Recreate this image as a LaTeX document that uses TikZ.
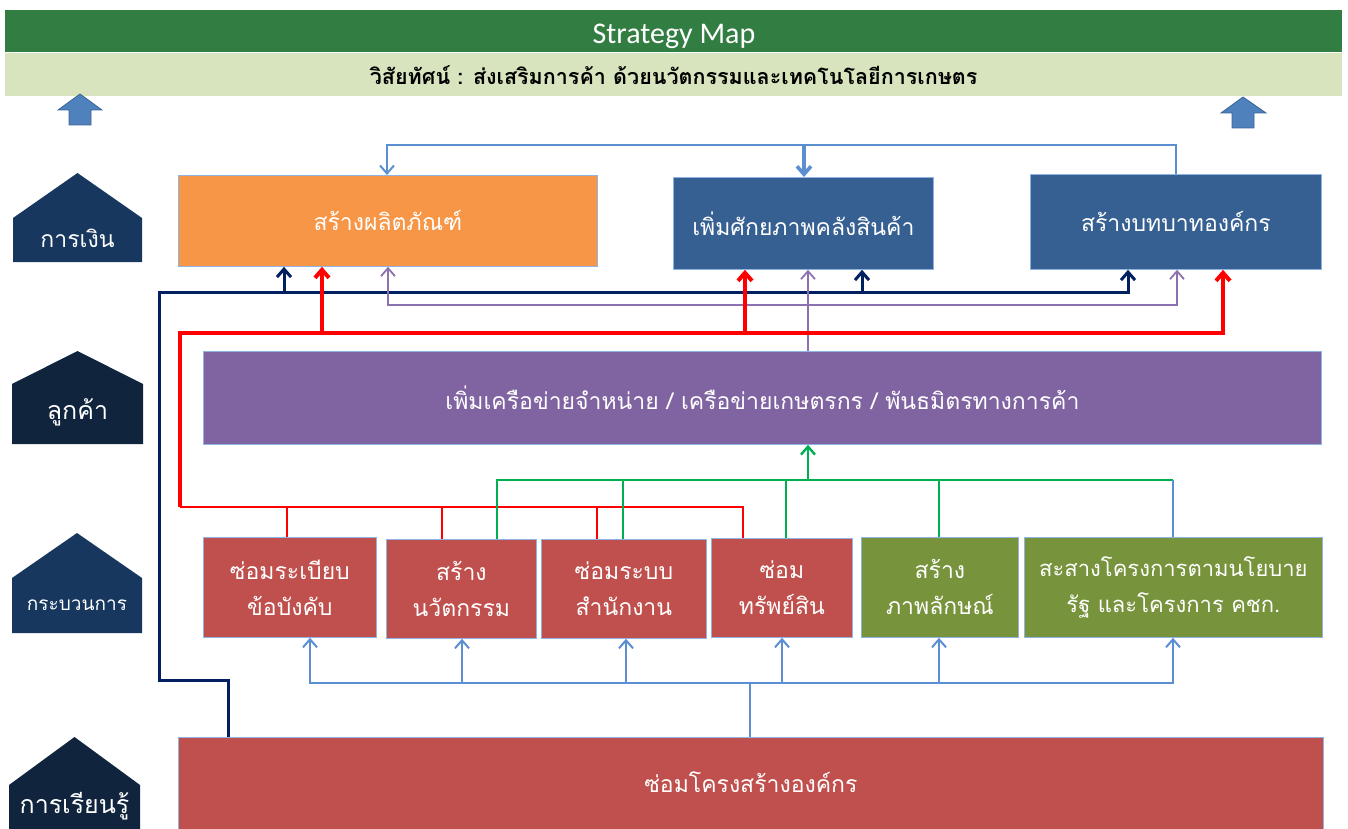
\documentclass[tikz,border=0pt]{standalone}
\usepackage{fontspec}
\newfontfamily\thaifont[Script=Thai]{Loma}
\newfontfamily\latinfont{Carlito}
\usetikzlibrary{arrows.meta}
\definecolor{hdrgreen}{HTML}{327D42}
\definecolor{lightgreen}{HTML}{D7E4BD}
\definecolor{orgfill}{HTML}{F79646}
\definecolor{bluefill}{HTML}{376092}
\definecolor{purfill}{HTML}{8064A2}
\definecolor{redfill}{HTML}{C0504D}
\definecolor{grnfill}{HTML}{77933C}
\definecolor{housea}{HTML}{17375E}
\definecolor{houseb}{HTML}{10243E}
\definecolor{boxedge}{HTML}{8EB4E3}
\definecolor{navyline}{HTML}{002060}
\definecolor{purline}{HTML}{8B71B0}
\definecolor{redline}{HTML}{FF0000}
\definecolor{grnline}{HTML}{00B050}
\definecolor{lbline}{HTML}{5B8FD2}
\definecolor{blkarrow}{HTML}{4F81BD}
\definecolor{blkedge}{HTML}{3A6496}
\begin{document}
\begin{tikzpicture}[x=1pt,y=-1pt,
  box/.style={draw=boxedge, line width=0.8pt, text=white, anchor=north west,
    font=\thaifont\fontsize{23}{36}\selectfont, align=center, inner sep=0pt},
  housetext/.style={text=white, font=\thaifont\fontsize{23}{26}\selectfont, inner sep=0pt},
  arr/.style={-{Straight Barb[length=8pt,width=14pt]}},
  navyl/.style={draw=navyline, line width=3pt},
  purl/.style={draw=purline, line width=1.8pt},
  redthick/.style={draw=redline, line width=4pt},
  redthin/.style={draw=redline, line width=2.4pt},
  grnl/.style={draw=grnline, line width=2.4pt},
  lbl/.style={draw=lbline, line width=2pt},
  blockarrow/.style={fill=blkarrow, draw=blkedge, line width=0.8pt}
]
\useasboundingbox (0,0) rectangle (1348,829);

% header bars
\node[fill=hdrgreen, minimum width=1337pt, minimum height=42pt, inner sep=0pt, anchor=north west] (title) at (5,10) {};
\node[text=white, font=\latinfont\fontsize{30}{32}\selectfont, inner sep=0pt] (titletext) at (674,36) {Strategy Map};
\node[fill=lightgreen, minimum width=1337pt, minimum height=43pt, inner sep=0pt, anchor=north west,
  text=black, font=\thaifont\bfseries\fontsize{21.5}{24}\selectfont] (vision) at (5,53)
  {วิสัยทัศน์ : ส่งเสริมการค้า ด้วยนวัตกรรมและเทคโนโลยีการเกษตร};

% block arrows
\path[blockarrow] (80,94) -- (102,110) -- (91,110) -- (91,125) -- (69,125) -- (69,110) -- (58,110) -- cycle;
\path[blockarrow] (1243,97) -- (1266,113) -- (1254,113) -- (1254,128) -- (1232,128) -- (1232,113) -- (1221,113) -- cycle;

% houses
\fill[housea] (13,262) -- (13,218) -- (77.5,173) -- (142,218) -- (142,262) -- cycle;
\node[housetext] (h1) at (77.5,238) {การเงิน};
\fill[houseb] (12,444) -- (12,384) -- (77.5,351) -- (143,384) -- (143,444) -- cycle;
\node[housetext, font=\thaifont\fontsize{25}{28}\selectfont] (h2) at (77.5,412) {ลูกค้า};
\fill[housea] (12,633) -- (12,578) -- (77,533) -- (142,578) -- (142,633) -- cycle;
\node[housetext, font=\thaifont\fontsize{19}{22}\selectfont] (h3) at (77,605) {กระบวนการ};
\fill[houseb] (9,829) -- (9,785) -- (74.5,737) -- (140,785) -- (140,829) -- cycle;
\node[housetext, font=\thaifont\fontsize{25}{28}\selectfont] (h4) at (74.5,806) {การเรียนรู้};

% boxes
\node[box, fill=orgfill, minimum width=419pt, minimum height=91pt] (prod) at (178,175) {สร้างผลิตภัณฑ์};
\node[box, fill=bluefill, minimum width=260pt, minimum height=92pt] (ware) at (673,177) {เพิ่มศักยภาพคลังสินค้า};
\node[box, fill=bluefill, minimum width=291pt, minimum height=95pt] (role) at (1030,174) {สร้างบทบาทองค์กร};
\node[box, fill=purfill, minimum width=1118pt, minimum height=93pt] (net) at (203,351)
  {เพิ่มเครือข่ายจำหน่าย / เครือข่ายเกษตรกร / พันธมิตรทางการค้า};
\node[box, fill=redfill, minimum width=173pt, minimum height=100pt] (p1) at (203,537) {ซ่อมระเบียบ\\ข้อบังคับ};
\node[box, fill=redfill, minimum width=150pt, minimum height=99pt] (p2) at (386,539) {สร้าง\\นวัตกรรม};
\node[box, fill=redfill, minimum width=165pt, minimum height=99pt] (p3) at (541,539) {ซ่อมระบบ\\สำนักงาน};
\node[box, fill=redfill, minimum width=141pt, minimum height=99pt] (p4) at (711,538) {ซ่อม\\ทรัพย์สิน};
\node[box, fill=grnfill, minimum width=157pt, minimum height=100pt] (p5) at (861,537) {สร้าง\\ภาพลักษณ์};
\node[box, fill=grnfill, minimum width=298pt, minimum height=100pt, font=\thaifont\fontsize{22}{36}\selectfont] (p6) at (1024,537) {สะสางโครงการตามนโยบาย\\รัฐ และโครงการ คชก.};
\node[box, fill=redfill, minimum width=1145pt, minimum height=100pt] (struct) at (178,737) {\raisebox{10pt}{ซ่อมโครงสร้างองค์กร}};

% top light-blue feedback
\draw[lbl, arr] (1176,0 |- role.north) -- (1176,145) -- (387,145) -- (387,0 |- prod.north);
\draw[draw=lbline, line width=3.6pt, arr] (804,145) -- (804,0 |- ware.north);

% navy connector
\draw[navyl, arr] (228,0 |- struct.north) -- (228,680) -- (159,680) -- (159,292) -- (1128,292) -- (1128,0 |- role.south);
\draw[navyl, arr] (284,292) -- (284,0 |- prod.south);
\draw[navyl, arr] (862,292) -- (862,0 |- ware.south);

% purple connectors
\draw[purl, arr] (808,0 |- net.north) -- (808,0 |- ware.south);
\draw[purl, arr] (808,305) -- (388,305) -- (388,0 |- prod.south);
\draw[purl, arr] (808,305) -- (1177,305) -- (1177,0 |- role.south);

% red connectors
\draw[redthin] (287,0 |- p1.north) -- (287,507);
\draw[redthin] (442,0 |- p2.north) -- (442,507);
\draw[redthin] (597,0 |- p3.north) -- (597,507);
\draw[redthin] (743,0 |- p4.north) -- (743,507) -- (180,507);
\draw[redthick, arr] (180,507) -- (180,333) -- (1223,333) -- (1223,0 |- role.south);
\draw[redthick, arr] (322,333) -- (322,0 |- prod.south);
\draw[redthick, arr] (745,333) -- (745,0 |- ware.south);

% green connectors
\draw[grnl] (497,0 |- p2.north) -- (497,480) -- (1173,480);
\draw[grnl] (623,0 |- p3.north) -- (623,480);
\draw[grnl] (786,0 |- p4.north) -- (786,480);
\draw[grnl] (939,0 |- p5.north) -- (939,480);
\draw[grnl, arr] (808,480) -- (808,0 |- net.south);
\draw[lbl] (1173,0 |- p6.north) -- (1173,480);

% bottom light-blue tree
\draw[lbl] (750,0 |- struct.north) -- (750,683);
\draw[lbl, arr] (750,683) -- (310,683) -- (310,0 |- p1.south);
\draw[lbl, arr] (750,683) -- (1173,683) -- (1173,0 |- p6.south);
\draw[lbl, arr] (462,683) -- (462,0 |- p2.south);
\draw[lbl, arr] (626,683) -- (626,0 |- p3.south);
\draw[lbl, arr] (782,683) -- (782,0 |- p4.south);
\draw[lbl, arr] (939,683) -- (939,0 |- p5.south);
\end{tikzpicture}
\end{document}
